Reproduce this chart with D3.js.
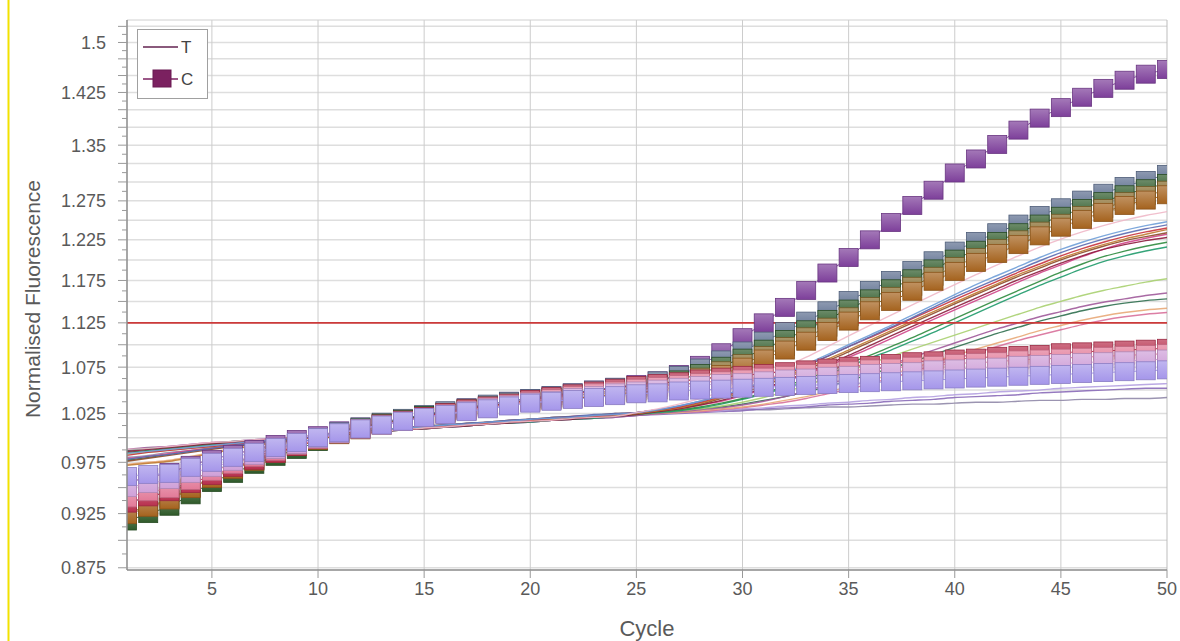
<!DOCTYPE html>
<html>
<head>
<meta charset="utf-8">
<script src="https://cdn.jsdelivr.net/npm/d3@7"></script>
<style>
  html, body { margin: 0; padding: 0; background: #fff; }
  svg { display: block; font-family: 'Liberation Sans', Arial, sans-serif; }
</style>
</head>
<body>
<svg id="chart" width="1180" height="641"></svg>
<script>
'use strict';

// Cycle numbers (x categories)
var cycles = [
  1, 2, 3, 4, 5, 6, 7, 8, 9, 10,
  11, 12, 13, 14, 15, 16, 17, 18, 19, 20,
  21, 22, 23, 24, 25, 26, 27, 28, 29, 30,
  31, 32, 33, 34, 35, 36, 37, 38, 39, 40,
  41, 42, 43, 44, 45, 46, 47, 48, 49, 50
];

var xTickLabels = [5, 10, 15, 20, 25, 30, 35, 40, 45, 50];
var yTickLabels = [0.875, 0.925, 0.975, 1.025, 1.075, 1.125, 1.175, 1.225, 1.275, 1.35, 1.425, 1.5];
var threshold = 1.125;

// ---- T runs (drawn as lines) ----
var tA = [
  0.988, 0.989, 0.991, 0.993, 0.995, 0.996, 0.998, 0.999, 1.001, 1.002,
  1.004, 1.005, 1.007, 1.008, 1.010, 1.011, 1.013, 1.014, 1.016, 1.017,
  1.018, 1.020, 1.021, 1.022, 1.026, 1.030, 1.035, 1.041, 1.048, 1.056,
  1.065, 1.075, 1.086, 1.098, 1.110, 1.122, 1.134, 1.146, 1.158, 1.170,
  1.182, 1.194, 1.205, 1.216, 1.226, 1.235, 1.243, 1.250, 1.256, 1.261
];
var tB = [
  0.984, 0.986, 0.988, 0.990, 0.992, 0.994, 0.996, 0.998, 1.000, 1.002,
  1.004, 1.006, 1.008, 1.010, 1.011, 1.013, 1.014, 1.016, 1.017, 1.019,
  1.020, 1.021, 1.023, 1.024, 1.026, 1.029, 1.033, 1.038, 1.044, 1.051,
  1.059, 1.068, 1.078, 1.089, 1.100, 1.111, 1.122, 1.134, 1.146, 1.158,
  1.170, 1.181, 1.192, 1.203, 1.213, 1.222, 1.230, 1.237, 1.243, 1.248
];
var tC = [
  0.982, 0.985, 0.987, 0.989, 0.991, 0.993, 0.995, 0.997, 0.999, 1.001,
  1.003, 1.005, 1.007, 1.009, 1.011, 1.012, 1.014, 1.015, 1.017, 1.018,
  1.020, 1.021, 1.022, 1.024, 1.026, 1.029, 1.032, 1.037, 1.043, 1.050,
  1.058, 1.067, 1.077, 1.087, 1.098, 1.108, 1.119, 1.130, 1.141, 1.152,
  1.163, 1.174, 1.185, 1.195, 1.205, 1.214, 1.222, 1.229, 1.235, 1.240
];
var tD = [
  0.976, 0.979, 0.982, 0.985, 0.988, 0.991, 0.994, 0.997, 0.999, 1.002,
  1.004, 1.006, 1.008, 1.010, 1.012, 1.013, 1.015, 1.016, 1.018, 1.019,
  1.021, 1.022, 1.023, 1.025, 1.026, 1.028, 1.031, 1.035, 1.041, 1.047,
  1.055, 1.063, 1.072, 1.082, 1.092, 1.103, 1.114, 1.125, 1.136, 1.147,
  1.158, 1.169, 1.180, 1.190, 1.200, 1.209, 1.217, 1.224, 1.229, 1.234
];
var tE = [
  0.986, 0.988, 0.990, 0.992, 0.994, 0.995, 0.997, 0.999, 1.000, 1.002,
  1.003, 1.005, 1.006, 1.008, 1.009, 1.011, 1.012, 1.014, 1.015, 1.017,
  1.018, 1.019, 1.021, 1.022, 1.024, 1.027, 1.030, 1.034, 1.039, 1.045,
  1.052, 1.060, 1.069, 1.078, 1.088, 1.099, 1.110, 1.121, 1.132, 1.143,
  1.154, 1.165, 1.176, 1.186, 1.196, 1.205, 1.213, 1.219, 1.224, 1.228
];
var tF = [
  0.979, 0.981, 0.984, 0.987, 0.989, 0.992, 0.995, 0.997, 1.000, 1.002,
  1.004, 1.006, 1.008, 1.009, 1.011, 1.013, 1.014, 1.016, 1.017, 1.019,
  1.020, 1.022, 1.023, 1.024, 1.026, 1.028, 1.030, 1.034, 1.038, 1.044,
  1.051, 1.059, 1.067, 1.076, 1.086, 1.096, 1.107, 1.118, 1.129, 1.140,
  1.151, 1.162, 1.173, 1.184, 1.194, 1.204, 1.213, 1.221, 1.227, 1.232
];
var tG = [
  0.985, 0.987, 0.989, 0.991, 0.993, 0.995, 0.996, 0.998, 1.000, 1.002,
  1.004, 1.005, 1.007, 1.009, 1.010, 1.012, 1.013, 1.015, 1.016, 1.018,
  1.019, 1.020, 1.022, 1.023, 1.025, 1.027, 1.029, 1.032, 1.036, 1.041,
  1.047, 1.054, 1.062, 1.070, 1.079, 1.088, 1.098, 1.108, 1.119, 1.130,
  1.141, 1.152, 1.163, 1.174, 1.185, 1.195, 1.204, 1.211, 1.217, 1.222
];
var tH = [
  0.987, 0.989, 0.990, 0.992, 0.994, 0.996, 0.997, 0.999, 1.000, 1.002,
  1.003, 1.005, 1.006, 1.008, 1.009, 1.011, 1.012, 1.014, 1.015, 1.016,
  1.018, 1.019, 1.020, 1.022, 1.024, 1.026, 1.028, 1.031, 1.035, 1.040,
  1.046, 1.052, 1.059, 1.067, 1.076, 1.085, 1.094, 1.104, 1.114, 1.125,
  1.136, 1.147, 1.158, 1.169, 1.179, 1.189, 1.198, 1.205, 1.211, 1.216
];
var tI = [
  0.972, 0.974, 0.976, 0.980, 0.984, 0.988, 0.992, 0.995, 0.998, 1.001,
  1.003, 1.005, 1.007, 1.009, 1.011, 1.012, 1.014, 1.015, 1.017, 1.018,
  1.019, 1.021, 1.022, 1.023, 1.025, 1.028, 1.031, 1.036, 1.042, 1.049,
  1.057, 1.065, 1.074, 1.084, 1.094, 1.105, 1.116, 1.127, 1.138, 1.149,
  1.160, 1.171, 1.182, 1.192, 1.202, 1.211, 1.219, 1.226, 1.232, 1.238
];
var tJ = [
  0.978, 0.981, 0.983, 0.986, 0.989, 0.992, 0.994, 0.997, 0.999, 1.002,
  1.004, 1.006, 1.008, 1.010, 1.012, 1.013, 1.015, 1.016, 1.018, 1.019,
  1.021, 1.022, 1.024, 1.025, 1.026, 1.029, 1.033, 1.038, 1.044, 1.051,
  1.059, 1.068, 1.077, 1.087, 1.098, 1.109, 1.120, 1.131, 1.143, 1.155,
  1.166, 1.177, 1.188, 1.199, 1.209, 1.218, 1.226, 1.233, 1.239, 1.244
];
var tK = [
  0.983, 0.985, 0.987, 0.989, 0.991, 0.993, 0.995, 0.997, 0.999, 1.001,
  1.003, 1.005, 1.007, 1.009, 1.011, 1.012, 1.014, 1.015, 1.017, 1.018,
  1.019, 1.021, 1.022, 1.023, 1.024, 1.026, 1.028, 1.030, 1.033, 1.037,
  1.042, 1.048, 1.055, 1.063, 1.071, 1.079, 1.087, 1.095, 1.103, 1.111,
  1.119, 1.127, 1.135, 1.143, 1.150, 1.157, 1.163, 1.168, 1.173, 1.177
];
var tL = [
  0.988, 0.990, 0.991, 0.993, 0.995, 0.996, 0.998, 0.999, 1.001, 1.002,
  1.004, 1.005, 1.007, 1.008, 1.010, 1.011, 1.012, 1.014, 1.015, 1.016,
  1.018, 1.019, 1.020, 1.021, 1.023, 1.025, 1.027, 1.029, 1.031, 1.034,
  1.038, 1.043, 1.049, 1.056, 1.063, 1.070, 1.078, 1.086, 1.094, 1.102,
  1.110, 1.118, 1.125, 1.132, 1.138, 1.144, 1.149, 1.153, 1.157, 1.160
];
var tM = [
  0.977, 0.980, 0.983, 0.986, 0.989, 0.991, 0.994, 0.996, 0.999, 1.001,
  1.003, 1.005, 1.007, 1.009, 1.011, 1.013, 1.014, 1.016, 1.017, 1.019,
  1.020, 1.021, 1.023, 1.024, 1.025, 1.026, 1.028, 1.030, 1.032, 1.035,
  1.039, 1.043, 1.048, 1.054, 1.060, 1.067, 1.074, 1.081, 1.089, 1.097,
  1.105, 1.113, 1.120, 1.127, 1.133, 1.139, 1.144, 1.148, 1.151, 1.153
];
var tN = [
  0.973, 0.975, 0.977, 0.981, 0.985, 0.989, 0.992, 0.995, 0.998, 1.001,
  1.003, 1.005, 1.007, 1.009, 1.011, 1.012, 1.014, 1.015, 1.017, 1.018,
  1.019, 1.021, 1.022, 1.023, 1.024, 1.025, 1.026, 1.028, 1.030, 1.032,
  1.035, 1.039, 1.043, 1.048, 1.054, 1.060, 1.067, 1.074, 1.081, 1.088,
  1.095, 1.102, 1.109, 1.116, 1.122, 1.128, 1.133, 1.137, 1.140, 1.142
];
var tO = [
  0.984, 0.986, 0.988, 0.990, 0.992, 0.994, 0.996, 0.997, 0.999, 1.001,
  1.003, 1.004, 1.006, 1.008, 1.009, 1.011, 1.012, 1.014, 1.015, 1.017,
  1.018, 1.020, 1.021, 1.022, 1.024, 1.025, 1.026, 1.027, 1.029, 1.031,
  1.034, 1.037, 1.041, 1.046, 1.051, 1.057, 1.063, 1.070, 1.077, 1.084,
  1.091, 1.098, 1.105, 1.111, 1.117, 1.123, 1.128, 1.132, 1.135, 1.137
];
var tP = [
  0.985, 0.987, 0.989, 0.991, 0.993, 0.995, 0.996, 0.998, 1.000, 1.002,
  1.004, 1.005, 1.007, 1.009, 1.010, 1.012, 1.013, 1.015, 1.016, 1.018,
  1.019, 1.020, 1.022, 1.023, 1.024, 1.025, 1.026, 1.027, 1.028, 1.030,
  1.031, 1.033, 1.034, 1.036, 1.037, 1.039, 1.040, 1.042, 1.043, 1.045,
  1.046, 1.048, 1.049, 1.050, 1.052, 1.053, 1.054, 1.055, 1.056, 1.057
];
var tQ = [
  0.987, 0.989, 0.991, 0.993, 0.994, 0.996, 0.998, 0.999, 1.001, 1.002,
  1.004, 1.005, 1.007, 1.008, 1.010, 1.011, 1.012, 1.014, 1.015, 1.016,
  1.018, 1.019, 1.020, 1.021, 1.023, 1.024, 1.025, 1.026, 1.027, 1.028,
  1.030, 1.031, 1.032, 1.034, 1.035, 1.036, 1.038, 1.039, 1.040, 1.042,
  1.043, 1.044, 1.045, 1.047, 1.048, 1.049, 1.050, 1.051, 1.052, 1.052
];
var tR = [
  0.980, 0.982, 0.985, 0.987, 0.990, 0.992, 0.994, 0.996, 0.999, 1.001,
  1.003, 1.005, 1.007, 1.009, 1.011, 1.012, 1.014, 1.015, 1.017, 1.018,
  1.020, 1.021, 1.022, 1.023, 1.025, 1.026, 1.026, 1.027, 1.028, 1.029,
  1.029, 1.030, 1.031, 1.032, 1.032, 1.033, 1.034, 1.035, 1.035, 1.036,
  1.037, 1.037, 1.038, 1.039, 1.039, 1.040, 1.040, 1.041, 1.041, 1.042
];

// ---- C runs (drawn as square markers) ----
var cP = [
  0.955, 0.960, 0.965, 0.972, 0.978, 0.983, 0.988, 0.993, 0.998, 1.002,
  1.007, 1.011, 1.015, 1.019, 1.023, 1.027, 1.031, 1.034, 1.038, 1.041,
  1.044, 1.047, 1.050, 1.053, 1.056, 1.060, 1.067, 1.077, 1.091, 1.108,
  1.125, 1.143, 1.163, 1.184, 1.203, 1.225, 1.247, 1.269, 1.289, 1.312,
  1.331, 1.351, 1.371, 1.388, 1.403, 1.418, 1.431, 1.443, 1.452, 1.459
];
var cB1 = [
  0.935, 0.941, 0.947, 0.957, 0.966, 0.974, 0.981, 0.988, 0.994, 1.000,
  1.006, 1.011, 1.016, 1.020, 1.024, 1.028, 1.031, 1.035, 1.038, 1.041,
  1.044, 1.047, 1.050, 1.053, 1.055, 1.060, 1.066, 1.074, 1.083, 1.093,
  1.104, 1.115, 1.127, 1.139, 1.151, 1.163, 1.175, 1.187, 1.199, 1.211,
  1.223, 1.234, 1.245, 1.256, 1.266, 1.276, 1.285, 1.294, 1.302, 1.310
];
var cB2 = [
  0.918, 0.925, 0.932, 0.943, 0.955, 0.964, 0.973, 0.981, 0.988, 0.996,
  1.004, 1.010, 1.015, 1.019, 1.023, 1.026, 1.030, 1.033, 1.036, 1.039,
  1.042, 1.044, 1.047, 1.049, 1.052, 1.056, 1.061, 1.068, 1.076, 1.085,
  1.095, 1.106, 1.117, 1.129, 1.141, 1.153, 1.165, 1.177, 1.189, 1.201,
  1.212, 1.223, 1.234, 1.245, 1.255, 1.265, 1.274, 1.283, 1.291, 1.298
];
var cB3 = [
  0.926, 0.932, 0.939, 0.950, 0.960, 0.969, 0.977, 0.984, 0.991, 0.998,
  1.004, 1.009, 1.014, 1.018, 1.022, 1.025, 1.029, 1.032, 1.035, 1.038,
  1.040, 1.042, 1.045, 1.047, 1.049, 1.053, 1.058, 1.064, 1.071, 1.079,
  1.088, 1.098, 1.109, 1.120, 1.132, 1.144, 1.156, 1.168, 1.180, 1.192,
  1.203, 1.214, 1.225, 1.236, 1.246, 1.256, 1.265, 1.274, 1.282, 1.289
];
var cB4 = [
  0.924, 0.931, 0.938, 0.949, 0.959, 0.968, 0.976, 0.984, 0.991, 0.997,
  1.003, 1.008, 1.013, 1.017, 1.021, 1.025, 1.028, 1.031, 1.034, 1.037,
  1.039, 1.041, 1.043, 1.045, 1.047, 1.050, 1.054, 1.060, 1.067, 1.075,
  1.084, 1.094, 1.104, 1.115, 1.127, 1.139, 1.150, 1.162, 1.174, 1.186,
  1.197, 1.208, 1.219, 1.230, 1.241, 1.251, 1.260, 1.269, 1.276, 1.283
];
var cL1 = [
  0.935, 0.941, 0.946, 0.954, 0.962, 0.970, 0.977, 0.984, 0.991, 0.998,
  1.004, 1.009, 1.014, 1.018, 1.022, 1.026, 1.030, 1.033, 1.036, 1.040,
  1.043, 1.046, 1.049, 1.052, 1.055, 1.057, 1.059, 1.062, 1.064, 1.066,
  1.068, 1.070, 1.072, 1.074, 1.076, 1.077, 1.079, 1.081, 1.082, 1.084,
  1.085, 1.087, 1.088, 1.089, 1.091, 1.092, 1.093, 1.094, 1.095, 1.096
];
var cL2 = [
  0.940, 0.946, 0.949, 0.957, 0.966, 0.973, 0.980, 0.986, 0.992, 0.998,
  1.004, 1.009, 1.013, 1.017, 1.021, 1.025, 1.028, 1.032, 1.035, 1.038,
  1.041, 1.044, 1.047, 1.049, 1.052, 1.054, 1.056, 1.058, 1.060, 1.062,
  1.064, 1.066, 1.068, 1.069, 1.071, 1.073, 1.074, 1.076, 1.077, 1.079,
  1.080, 1.081, 1.083, 1.084, 1.085, 1.086, 1.087, 1.088, 1.089, 1.090
];
var cL3 = [
  0.950, 0.954, 0.958, 0.964, 0.970, 0.976, 0.982, 0.988, 0.993, 0.999,
  1.004, 1.009, 1.013, 1.017, 1.021, 1.024, 1.028, 1.031, 1.034, 1.037,
  1.039, 1.042, 1.044, 1.047, 1.049, 1.051, 1.053, 1.055, 1.057, 1.058,
  1.060, 1.062, 1.063, 1.065, 1.066, 1.068, 1.069, 1.070, 1.072, 1.073,
  1.074, 1.075, 1.077, 1.078, 1.079, 1.080, 1.081, 1.082, 1.083, 1.084
];
var cL4 = [
  0.961, 0.963, 0.964, 0.970, 0.975, 0.980, 0.985, 0.990, 0.995, 1.000,
  1.005, 1.009, 1.013, 1.017, 1.021, 1.024, 1.027, 1.030, 1.033, 1.036,
  1.038, 1.040, 1.042, 1.044, 1.046, 1.047, 1.049, 1.050, 1.051, 1.052,
  1.053, 1.054, 1.055, 1.056, 1.057, 1.058, 1.059, 1.060, 1.061, 1.062,
  1.063, 1.064, 1.065, 1.066, 1.067, 1.068, 1.069, 1.070, 1.071, 1.072
];

// Series tables built from the arrays above (line runs first, markers on top)
var tRuns = [
  {values: tR, color: '#9088a8'}, {values: tQ, color: '#8a6ab8'}, {values: tP, color: '#b4a0e0'},
  {values: tO, color: '#d8709a'}, {values: tN, color: '#e8a878'}, {values: tM, color: '#2f6f4f'},
  {values: tL, color: '#a05a9a'}, {values: tK, color: '#a8d070'},
  {values: tH, color: '#1f9a6a'}, {values: tG, color: '#2e8b3e'}, {values: tF, color: '#d0458a'},
  {values: tE, color: '#8c1c3c'}, {values: tD, color: '#8b4a2a'}, {values: tI, color: '#c07a30'},
  {values: tC, color: '#c8323c'}, {values: tJ, color: '#5a6ab0'}, {values: tB, color: '#6f9fd8'},
  {values: tA, color: '#f0b8c8'}
];
var cRuns = [
  {values: cP, color: '#7d3f9a'},
  {values: cB1, color: '#5d6f8f'}, {values: cB2, color: '#2f5a2a'},
  {values: cB3, color: '#86692a'}, {values: cB4, color: '#a5631e'},
  {values: cL1, color: '#b8304e'}, {values: cL2, color: '#e27a98'},
  {values: cL3, color: '#cfa0d8'}, {values: cL4, color: '#a596ea'}
];

(function () {
  var plotLeft = 127, plotRight = 1167, plotTop = 20, plotBottom = 570;
  var markW = 19, markH = 18;

  var svg = d3.select('#chart');

  // Define scales
  var x = d3.scaleLinear().domain([1, 50]).range([plotLeft, plotRight]);
  var y = d3.scaleLog().domain([0.873, 1.535]).range([plotBottom, plotTop]);

  var defs = svg.append('defs');
  defs.append('clipPath').attr('id', 'plotClip')
    .append('rect')
    .attr('x', plotLeft).attr('y', plotTop)
    .attr('width', plotRight - plotLeft).attr('height', plotBottom - plotTop);

  // Marker gradients, light at the top
  cRuns.forEach(function (s, i) {
    var g = defs.append('linearGradient')
      .attr('id', 'grad' + i)
      .attr('x1', 0).attr('y1', 0).attr('x2', 0).attr('y2', 1);
    g.append('stop').attr('offset', '0%').attr('stop-color', d3.interpolateRgb(s.color, '#ffffff')(0.3));
    g.append('stop').attr('offset', '100%').attr('stop-color', s.color);
  });

  // Yellow strip on the far left
  svg.append('line')
    .attr('x1', 8.5).attr('x2', 8.5).attr('y1', 0).attr('y2', 641)
    .style('stroke', '#f2e200').style('stroke-width', 2);

  // Gridlines
  var gridVals = d3.range(0, 27).map(function (i) { return 0.875 + i * 0.025; })
    .filter(function (v) { return y(v) > plotTop + 2; });
  svg.append('g').selectAll('line').data(gridVals).enter()
    .append('line')
    .attr('x1', plotLeft).attr('x2', plotRight)
    .attr('y1', function (d) { return y(d); })
    .attr('y2', function (d) { return y(d); })
    .style('stroke', '#dedede')
    .style('stroke-width', 1.5);

  svg.append('g').selectAll('line').data(xTickLabels.slice(0, -1)).enter()
    .append('line')
    .attr('x1', function (d) { return x(d); })
    .attr('x2', function (d) { return x(d); })
    .attr('y1', plotTop).attr('y2', plotBottom)
    .style('stroke', '#cccccc')
    .style('stroke-width', 1);

  // Frame
  svg.append('line').attr('x1', plotLeft).attr('x2', plotRight).attr('y1', plotTop).attr('y2', plotTop)
    .style('stroke', '#d0d0d0');
  svg.append('line').attr('x1', plotRight).attr('x2', plotRight).attr('y1', plotTop).attr('y2', plotBottom)
    .style('stroke', '#bdbdbd');

  var plot = svg.append('g').attr('clip-path', 'url(#plotClip)');

  var line = d3.line()
    .x(function (d) { return x(d[0]); })
    .y(function (d) { return y(d[1]); })
    .curve(d3.curveMonotoneX);

  function pts(values) {
    return cycles.map(function (c, i) { return [c, values[i]]; });
  }

  // T runs
  plot.append('g').selectAll('path').data(tRuns).enter()
    .append('path')
    .attr('d', function (d) { return line(pts(d.values)); })
    .style('fill', 'none')
    .style('stroke', function (d) { return d.color; })
    .style('stroke-width', 1.4)
    .style('opacity', 0.9);

  // Threshold
  plot.append('line')
    .attr('x1', plotLeft).attr('x2', plotRight)
    .attr('y1', y(threshold)).attr('y2', y(threshold))
    .style('stroke', '#cc3a3a')
    .style('stroke-width', 1.6);

  // C runs, each with its thin line and square markers
  cRuns.forEach(function (s, i) {
    var g = plot.append('g');
    g.append('path')
      .attr('d', line(pts(s.values)))
      .style('fill', 'none')
      .style('stroke', s.color)
      .style('stroke-width', 1);
    g.selectAll('rect').data(pts(s.values)).enter()
      .append('rect')
      .attr('x', function (d) { return x(d[0]) - markW / 2; })
      .attr('y', function (d) { return y(d[1]) - markH / 2; })
      .attr('width', markW)
      .attr('height', markH)
      .style('fill', 'url(#grad' + i + ')')
      .style('stroke', d3.color(s.color).darker(0.5))
      .style('stroke-width', 0.8);
  });

  // Axes lines
  svg.append('line').attr('x1', plotLeft).attr('x2', plotLeft).attr('y1', plotTop).attr('y2', plotBottom)
    .style('stroke', '#8a8a8a').style('stroke-width', 1.5);
  svg.append('line').attr('x1', plotLeft).attr('x2', plotRight).attr('y1', plotBottom).attr('y2', plotBottom)
    .style('stroke', '#8a8a8a').style('stroke-width', 1.5);

  // Y ticks: major every 0.025, minor in between
  var minorVals = d3.range(0, 54).map(function (i) { return 0.875 + i * 0.0125; })
    .filter(function (v) { return y(v) >= plotTop; });
  svg.append('g').selectAll('line').data(minorVals).enter()
    .append('line')
    .attr('x1', function (d, i) { return i % 2 === 0 ? plotLeft - 9 : plotLeft - 5; })
    .attr('x2', plotLeft)
    .attr('y1', function (d) { return y(d); })
    .attr('y2', function (d) { return y(d); })
    .style('stroke', '#999')
    .style('stroke-width', 1);

  svg.append('g').selectAll('text').data(yTickLabels).enter()
    .append('text')
    .attr('x', 106)
    .attr('y', function (d) { return y(d); })
    .attr('dy', '0.36em')
    .attr('text-anchor', 'end')
    .style('font-size', '18px')
    .style('fill', '#5a5a5a')
    .text(String);

  // X ticks
  svg.append('g').selectAll('line').data(xTickLabels).enter()
    .append('line')
    .attr('x1', function (d) { return x(d); })
    .attr('x2', function (d) { return x(d); })
    .attr('y1', plotBottom).attr('y2', plotBottom + 8)
    .style('stroke', '#999');

  svg.append('g').selectAll('text').data(xTickLabels).enter()
    .append('text')
    .attr('x', function (d) { return x(d); })
    .attr('y', 595)
    .attr('text-anchor', 'middle')
    .style('font-size', '18px')
    .style('fill', '#5a5a5a')
    .text(String);

  // Axis titles
  svg.append('text')
    .attr('x', (plotLeft + plotRight) / 2)
    .attr('y', 636)
    .attr('text-anchor', 'middle')
    .style('font-size', '22px')
    .style('fill', '#5a5a5a')
    .text('Cycle');

  svg.append('text')
    .attr('transform', 'translate(40,' + ((plotTop + plotBottom) / 2 + 4) + ') rotate(-90)')
    .attr('text-anchor', 'middle')
    .style('font-size', '21px')
    .style('fill', '#5a5a5a')
    .text('Normalised Fluorescence');

  // Legend
  var legend = svg.append('g');
  legend.append('rect')
    .attr('x', 137.5).attr('y', 29.5).attr('width', 70).attr('height', 69)
    .style('fill', '#fff').style('stroke', '#a0a0a0');
  legend.append('line')
    .attr('x1', 143).attr('x2', 178).attr('y1', 47).attr('y2', 47)
    .style('stroke', '#8a5a7c').style('stroke-width', 2);
  legend.append('text')
    .attr('x', 181).attr('y', 47).attr('dy', '0.36em')
    .style('font-size', '17px').style('fill', '#444')
    .text('T');
  legend.append('line')
    .attr('x1', 143).attr('x2', 178).attr('y1', 79).attr('y2', 79)
    .style('stroke', '#7b2160').style('stroke-width', 1.5);
  legend.append('rect')
    .attr('x', 153).attr('y', 70).attr('width', 18).attr('height', 17)
    .style('fill', '#7b2160').style('stroke', '#6a1a52');
  legend.append('text')
    .attr('x', 181).attr('y', 79).attr('dy', '0.36em')
    .style('font-size', '17px').style('fill', '#444')
    .text('C');
})();
</script>
</body>
</html>
